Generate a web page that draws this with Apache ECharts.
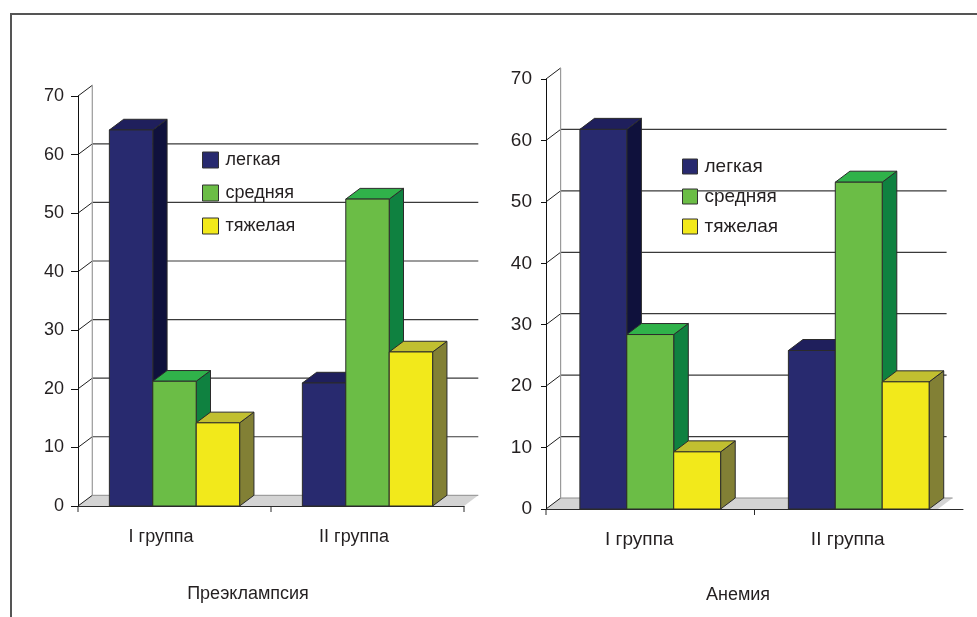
<!DOCTYPE html>
<html>
<head>
<meta charset="utf-8">
<script src="https://cdn.jsdelivr.net/npm/echarts@6/dist/echarts.min.js"></script>
<style>
  html, body { margin: 0; padding: 0; background: #fff; }
  #chart { width: 977px; height: 617px; }
</style>
</head>
<body>
<div id="chart"></div>
<script>
// ---- data ----
const categories = ['I группа', 'II группа'];
const severities = ['легкая', 'средняя', 'тяжелая'];
const yTicks = [0, 10, 20, 30, 40, 50, 60, 70];

// Преэклампсия, % по степени тяжести
const preLight = [64.2, 21.0];
const preModerate = [21.3, 52.4];
const preSevere = [14.2, 26.3];

// Анемия, % по степени тяжести
const anLight = [61.8, 25.8];
const anModerate = [28.4, 53.2];
const anSevere = [9.3, 20.7];

// ---- styling ----
const FONT = 'Arial, "Liberation Sans", Helvetica, sans-serif';
const TEXT = '#231f20';
const faceColors = [
  { front: '#282a6f', top: '#1f1f5c', side: '#0f113c' },
  { front: '#6bbd46', top: '#30b24a', side: '#0f8140' },
  { front: '#f2e91b', top: '#c1bf30', side: '#828035' }
];

const panels = [
  {
    title: 'Преэклампсия', values: [preLight, preModerate, preSevere],
    grid: { left: 78, top: 96, width: 386, height: 410 },
    dx: 14.3, dy: 10.7, wallW: 386, floorW: 386, barRatio: 0.225,
    font: 18, labelShift: 27, tickLen: 7, nameShift: 46, nameGap: 79, labelMargin: 22,
    legend: { left: 202, top: 151, size: 16, gap: 15 }
  },
  {
    title: 'Анемия', values: [anLight, anModerate, anSevere],
    grid: { left: 546, top: 79, width: 417, height: 430 },
    dx: 14.6, dy: 11, wallW: 386, floorW: 392, barRatio: 0.225,
    font: 19, labelShift: 22, tickLen: 5, nameShift: 33, nameGap: 77, labelMargin: 21,
    legend: { left: 682, top: 157, size: 15, gap: 11 }
  }
];

// back wall, floor, depth connectors and category ticks of a pseudo-3D plot
function frameRenderer(p) {
  return function (params, api) {
    const cs = params.coordSys;
    const x0 = cs.x;
    const bx = x0 + p.dx;
    const yOf = v => api.coord([0, v])[1];
    const base = yOf(yTicks[0]);
    const topY = yOf(yTicks[yTicks.length - 1]);
    const band = api.size([1, 0])[0];
    const children = [];
    children.push({
      type: 'polygon',
      shape: { points: [[x0, base], [x0 + p.floorW, base], [x0 + p.floorW + p.dx, base - p.dy], [bx, base - p.dy]] },
      style: { fill: '#d4d4d4', stroke: null }
    });
    children.push({
      type: 'line',
      shape: { x1: bx, y1: base - p.dy, x2: bx + p.floorW, y2: base - p.dy },
      style: { stroke: '#8e8e8e', lineWidth: 1 }
    });
    yTicks.forEach((v, i) => {
      const y = yOf(v);
      if (i > 0 && i < yTicks.length - 1) {
        children.push({
          type: 'line',
          shape: { x1: bx, y1: y - p.dy, x2: bx + p.wallW, y2: y - p.dy },
          style: { stroke: '#3a3a3a', lineWidth: 1.2 }
        });
      }
      children.push({
        type: 'line',
        shape: { x1: x0, y1: y, x2: bx, y2: y - p.dy },
        style: { stroke: '#1e1e1e', lineWidth: 1 }
      });
    });
    children.push({
      type: 'line',
      shape: { x1: bx, y1: base - p.dy, x2: bx, y2: topY - p.dy },
      style: { stroke: '#9a9a9a', lineWidth: 1.2 }
    });
    // category boundary ticks below the floor edge, only along the drawn floor
    for (let i = 0; i <= categories.length; i++) {
      const x = x0 + i * band;
      if (x > x0 + p.floorW + 1) break;
      children.push({
        type: 'line',
        shape: { x1: x, y1: base, x2: x, y2: base + 6 },
        style: { stroke: '#2a2a2a', lineWidth: 1 }
      });
    }
    return { type: 'group', children };
  };
}

// a box-shaped bar: side, top and front faces
function barRenderer(p, s) {
  return function (params, api) {
    const cat = api.value(0);
    const v = api.value(1);
    const topPt = api.coord([cat, v]);
    const basePt = api.coord([cat, 0]);
    const bw = api.size([1, 0])[0] * p.barRatio;
    const xl = topPt[0] - 1.5 * bw + s * bw;
    const xr = xl + bw;
    const yt = topPt[1];
    const yb = basePt[1];
    const c = faceColors[s];
    const edge = { stroke: '#2b2b2b', lineWidth: 1, lineJoin: 'round' };
    return {
      type: 'group',
      children: [
        { type: 'polygon', shape: { points: [[xr, yt], [xr + p.dx, yt - p.dy], [xr + p.dx, yb - p.dy], [xr, yb]] },
          style: Object.assign({ fill: c.side }, edge) },
        { type: 'polygon', shape: { points: [[xl, yt], [xl + p.dx, yt - p.dy], [xr + p.dx, yt - p.dy], [xr, yt]] },
          style: Object.assign({ fill: c.top }, edge) },
        { type: 'rect', shape: { x: xl, y: yt, width: bw, height: yb - yt },
          style: Object.assign({ fill: c.front }, edge) }
      ]
    };
  };
}

const grids = [], xAxes = [], yAxes = [], series = [], legends = [];

panels.forEach((p, gi) => {
  grids.push(Object.assign({ containLabel: false }, p.grid));
  xAxes.push({
    type: 'category', gridIndex: gi, data: categories, z: 3,
    axisLine: { show: true, lineStyle: { color: '#2a2a2a', width: 1 } },
    axisTick: { show: false },
    axisLabel: { color: TEXT, fontSize: p.font, fontFamily: FONT, margin: p.labelMargin,
                 padding: [0, p.labelShift, 0, 0] },
    name: p.title, nameLocation: 'middle', nameGap: p.nameGap,
    nameTextStyle: { color: TEXT, fontSize: 18, fontFamily: FONT, padding: [0, p.nameShift, 0, 0] },
    splitLine: { show: false }
  });
  yAxes.push({
    type: 'value', gridIndex: gi, min: yTicks[0], max: yTicks[yTicks.length - 1], interval: 10, z: 3,
    axisLine: { show: true, lineStyle: { color: '#111', width: 1 } },
    axisTick: { show: true, length: p.tickLen, lineStyle: { color: '#111' } },
    axisLabel: { color: TEXT, fontSize: p.font, fontFamily: FONT, margin: 14 },
    splitLine: { show: false }
  });
  series.push({
    type: 'custom', name: 'frame' + gi, xAxisIndex: gi, yAxisIndex: gi, z: 1, silent: true,
    data: [[0, 0]], encode: { x: 0, y: 1 },
    renderItem: frameRenderer(p)
  });
  severities.forEach((name, s) => {
    series.push({
      type: 'custom', name, xAxisIndex: gi, yAxisIndex: gi, z: 2, silent: true,
      itemStyle: { color: faceColors[s].front },
      data: p.values[s].map((v, i) => [i, v]), encode: { x: 0, y: 1 },
      renderItem: barRenderer(p, s)
    });
  });
  legends.push({
    data: severities, orient: 'vertical', left: p.legend.left, top: p.legend.top, padding: 0,
    itemWidth: p.legend.size, itemHeight: p.legend.size, itemGap: p.legend.gap,
    icon: 'rect', selectedMode: false,
    itemStyle: { borderColor: '#333', borderWidth: 1 },
    textStyle: { color: TEXT, fontSize: p.font, fontFamily: FONT, padding: [0, 0, 0, 2] }
  });
});

const chart = echarts.init(document.getElementById('chart'), null, { renderer: 'canvas' });
chart.setOption({
  backgroundColor: '#ffffff',
  animation: false,
  grid: grids, xAxis: xAxes, yAxis: yAxes, series, legend: legends,
  graphic: [{
    type: 'rect', silent: true, z: 10,
    shape: { x: 11, y: 14, width: 1000, height: 700 },
    style: { fill: 'none', stroke: '#555', lineWidth: 2 }
  }]
});
</script>
</body>
</html>
